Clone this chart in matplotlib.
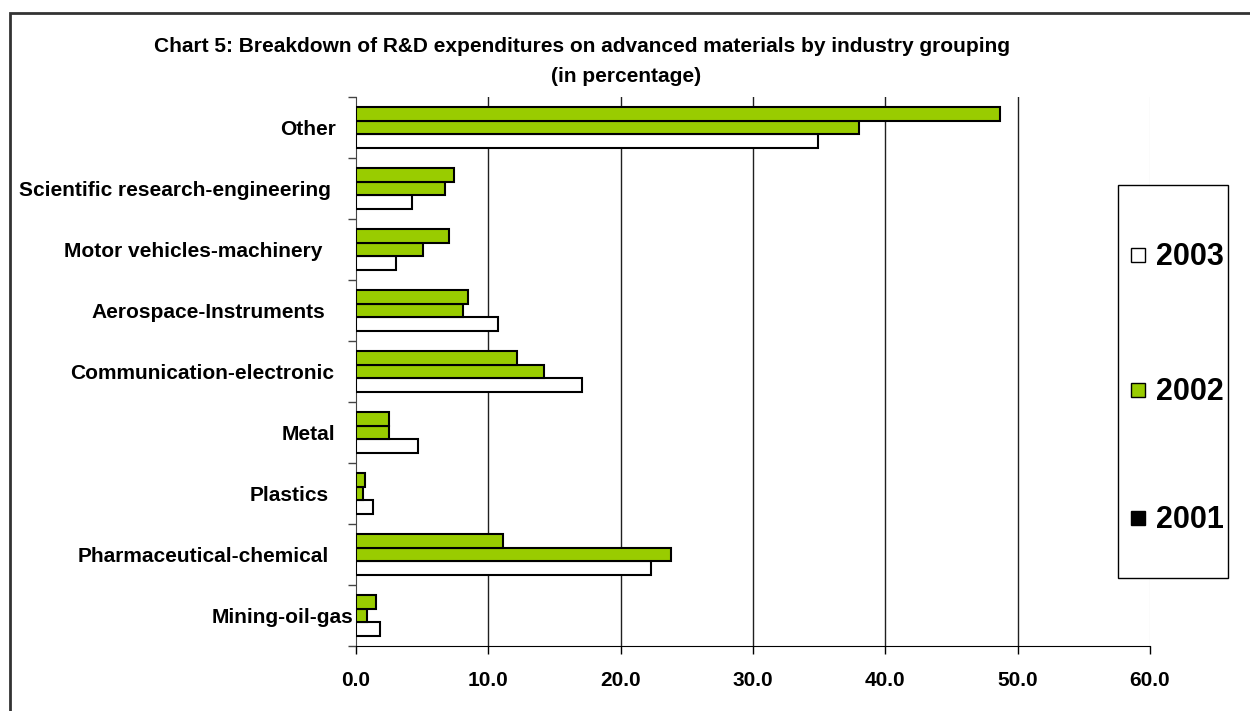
import matplotlib
matplotlib.use("Agg")
import matplotlib.pyplot as plt
import matplotlib.patches as mpatches
import matplotlib.transforms as mtransforms
import numpy as np

# --- DATA (bottom category first) ---
categories = ["Mining-oil-gas", "Pharmaceutical-chemical", "Plastics", "Metal",
              "Communication-electronic", "Aerospace-Instruments",
              "Motor vehicles-machinery", "Scientific research-engineering", "Other"]
vals_2001 = [1.5, 11.1, 0.7, 2.5, 12.2, 8.5, 7.0, 7.4, 48.7]
vals_2002 = [0.8, 23.8, 0.55, 2.5, 14.2, 8.1, 5.1, 6.7, 38.0]
vals_2003 = [1.8, 22.3, 1.25, 4.7, 17.1, 10.7, 3.0, 4.25, 34.9]
years = ["2003", "2002", "2001"]
legend_colors = ["white", "#99CC00", "black"]
x_ticks = [0, 10, 20, 30, 40, 50, 60]

# label gap from axis (pixels), mimics the uneven padding of the original
label_gap = [3, 27, 27, 21, 22, 31, 34, 25, 20]

GREEN = "#99CC00"
W, H = 1250, 711
plt.rcParams["font.family"] = ["Liberation Sans", "DejaVu Sans"]
plt.rcParams["font.weight"] = "bold"

fig = plt.figure(figsize=(W / 100, H / 100), dpi=100)
ax = fig.add_axes([356 / W, 65 / H, 794 / W, 549 / H])

# outer chart border
fig.patches.append(mpatches.Rectangle((10 / W, -0.01), 1.0, 1 - 13 / H + 0.01,
                                      transform=fig.transFigure, fill=False,
                                      edgecolor="#333333", linewidth=2))

y = np.arange(len(categories))
h = 0.225
bar_kw = dict(height=h, edgecolor="black", linewidth=1.5, zorder=3)
ax.barh(y - h, vals_2003, color="white", **bar_kw)
ax.barh(y, vals_2002, color=GREEN, **bar_kw)
ax.barh(y + h, vals_2001, color=GREEN, **bar_kw)

ax.set_xlim(0, 60)
ax.set_ylim(-0.5, len(categories) - 0.5)

# gridlines
for xv in x_ticks[1:]:
    c = "#202020" if xv < 60 else "#eeeeee"
    ax.axvline(xv, color=c, linewidth=1, zorder=1)

ax.set_xticks(x_ticks)
ax.set_xticklabels([f"{v:.1f}" for v in x_ticks], fontsize=15, fontweight="bold")
ax.tick_params(axis="x", length=6, width=1, direction="out", pad=12)

ax.set_yticks(y)
ax.set_yticklabels(categories, fontsize=15, fontweight="bold")
ax.set_yticks(np.arange(-0.5, len(categories)), minor=True)
ax.tick_params(axis="y", which="major", length=0, pad=0)
ax.tick_params(axis="y", which="minor", length=6, width=1, color="#444444")
for lbl, gap in zip(ax.get_yticklabels(), label_gap):
    lbl.set_transform(lbl.get_transform() +
                      mtransforms.ScaledTranslation(-gap / 100, 0, fig.dpi_scale_trans))

for s in ["top", "right"]:
    ax.spines[s].set_visible(False)
ax.spines["left"].set_color("#444444")
ax.spines["bottom"].set_color("black")

# title
fig.text(582 / W, 1 - 47 / H,
         "Chart 5: Breakdown of R&D expenditures on advanced materials by industry grouping",
         ha="center", va="center", fontsize=15, fontweight="bold")
fig.text(626 / W, 1 - 77 / H, "(in percentage)",
         ha="center", va="center", fontsize=15, fontweight="bold")

# legend box drawn by hand (Excel-like tall box with swatches)
fig.patches.append(mpatches.Rectangle((1118 / W, 1 - 578 / H), 110 / W, 393 / H,
                                      transform=fig.transFigure, facecolor="white",
                                      edgecolor="black", linewidth=1, zorder=5))
for yr, col, yc in zip(years, legend_colors, [255, 390, 518]):
    fig.patches.append(mpatches.Rectangle((1131 / W, 1 - (yc + 7) / H), 14 / W, 14 / H,
                                          transform=fig.transFigure, facecolor=col,
                                          edgecolor="black", linewidth=1, zorder=6))
    fig.text(1156 / W, 1 - (yc + 2) / H, yr, ha="left", va="center",
             fontsize=22, fontweight="bold", zorder=6)

fig.savefig("out.png", dpi=100, facecolor="white")
